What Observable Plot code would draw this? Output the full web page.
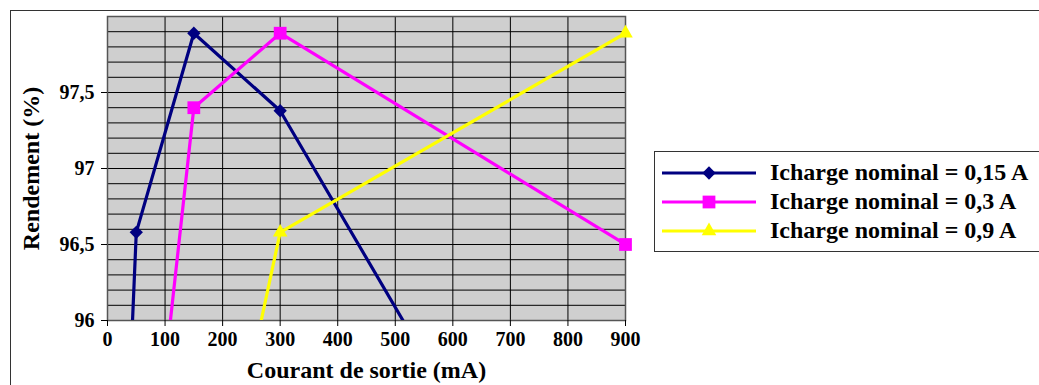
<!DOCTYPE html>
<html>
<head>
<meta charset="utf-8">
<script src="https://cdn.jsdelivr.net/npm/d3@7"></script>
<script src="https://cdn.jsdelivr.net/npm/@observablehq/plot@0.6"></script>
<style>
  html, body { margin: 0; padding: 0; background: #fff; overflow: hidden; width: 1039px; height: 385px; }
  #wrap { position: relative; width: 1039px; height: 385px; }
  #outer { position: absolute; left: 10px; top: 10px; width: 1100px; height: 500px; border-top: 1.5px solid #333; border-left: 1.5px solid #333; }
  #chart { position: absolute; left: 0; top: 0; }
  #legend { position: absolute; left: 654px; top: 151px; width: 420px; height: 99px; border: 1.5px solid #333; background: #fff;
            font-family: "Liberation Serif", "Times New Roman", serif; font-weight: bold; font-size: 24px; color: #000; }
  .row { position: absolute; left: 6px; height: 29px; display: flex; align-items: center; white-space: nowrap; }
  .row svg { display: block; margin-right: 13px; }
</style>
</head>
<body>
<div id="wrap">
  <div id="outer"></div>
  <div id="chart"></div>
  <div id="legend"></div>
</div>
<script>
// ---- Data ----
const seriesNames = ["Icharge nominal = 0,15 A", "Icharge nominal = 0,3 A", "Icharge nominal = 0,9 A"];
const seriesColors = ["#000080", "#FF00FF", "#FFFF00"];
const seriesSymbols = ["diamond2", "square", "triangle"];

const current015 = [30, 50, 150, 300, 600];
const rendement015 = [94.8, 96.58, 97.89, 97.38, 95.44];

const current03 = [100, 150, 300, 900];
const rendement03 = [95.68, 97.40, 97.89, 96.50];

const current09 = [250, 300, 900];
const rendement09 = [95.70, 96.58, 97.89];

const xTicks = [0, 100, 200, 300, 400, 500, 600, 700, 800, 900];
const yTicks = [96, 96.5, 97, 97.5];
const yGrid = [96, 96.1, 96.2, 96.3, 96.4, 96.5, 96.6, 96.7, 96.8, 96.9, 97, 97.1, 97.2, 97.3, 97.4, 97.5, 97.6, 97.7, 97.8, 97.9, 98];

const xTitle = "Courant de sortie (mA)";
const yTitle = "Rendement (%)";

// ---- Build table ----
const seriesX = [current015, current03, current09];
const seriesY = [rendement015, rendement03, rendement09];
const data = [];
seriesNames.forEach((name, i) => {
  seriesX[i].forEach((x, j) => data.push({series: name, x, y: seriesY[i][j]}));
});
const dotR = {"diamond2": 6, "square": 7.2, "triangle": 5.4};
const yMin = 96, yMax = 98;

const marks = [
  Plot.frame({fill: "#cfcfcf", stroke: null}),
  Plot.gridY(yGrid, {stroke: "#000", strokeOpacity: 1, strokeWidth: 1}),
  Plot.gridX(xTicks, {stroke: "#000", strokeOpacity: 1, strokeWidth: 1}),
  Plot.frame({stroke: "#555", strokeWidth: 1.5}),
  Plot.axisX(xTicks, {tickSize: 6, tickPadding: 5, fontSize: 20, tickFormat: d => String(d), label: null, stroke: "#000"}),
  Plot.axisY(yTicks, {tickSize: 6, tickPadding: 7, fontSize: 20, tickFormat: d => String(d).replace(".", ","), label: null, stroke: "#000"}),
  Plot.text([xTitle], {frameAnchor: "bottom", textAnchor: "middle", lineAnchor: "middle", dy: 50, fontSize: 24, fontWeight: "bold", fill: "#000"}),
  Plot.text([yTitle], {frameAnchor: "left", textAnchor: "middle", lineAnchor: "middle", dx: -76, rotate: -90, fontSize: 24, fontWeight: "bold", fill: "#000"})
];
seriesNames.forEach((name, i) => {
  const d = data.filter(r => r.series === name);
  marks.push(Plot.line(d, {x: "x", y: "y", stroke: seriesColors[i], strokeWidth: 3.2, clip: true}));
});
seriesNames.forEach((name, i) => {
  const d = data.filter(r => r.series === name && r.y >= yMin && r.y <= yMax);
  marks.push(Plot.dot(d, {x: "x", y: "y", symbol: () => seriesSymbols[i], fill: seriesColors[i], stroke: "none", r: dotR[seriesSymbols[i]]}));
});

const chart = Plot.plot({
  width: 1039,
  height: 385,
  marginLeft: 107,
  marginRight: 414,
  marginTop: 16,
  marginBottom: 65,
  style: {fontFamily: "'Liberation Serif', 'Times New Roman', serif", fontWeight: "bold", fontSize: "20px", color: "#000", background: "transparent"},
  x: {domain: [0, 900]},
  y: {domain: [yMin, yMax]},
  symbol: {type: "identity"},
  marks
});
document.getElementById("chart").appendChild(chart);

// ---- Legend ----
const legend = document.getElementById("legend");
const symGen = {"diamond2": d3.symbolDiamond2, "square": d3.symbolSquare, "triangle": d3.symbolTriangle};
seriesNames.forEach((name, i) => {
  const row = document.createElement("div");
  row.className = "row";
  row.style.top = (6 + i * 29) + "px";
  const svg = d3.create("svg").attr("width", 96).attr("height", 20);
  svg.append("line").attr("x1", 1).attr("x2", 95).attr("y1", 10).attr("y2", 10)
     .attr("stroke", seriesColors[i]).attr("stroke-width", 3);
  const r = dotR[seriesSymbols[i]];
  svg.append("path").attr("transform", "translate(48,10)")
     .attr("d", d3.symbol(symGen[seriesSymbols[i]], Math.PI * r * r)())
     .attr("fill", seriesColors[i]);
  row.appendChild(svg.node());
  const span = document.createElement("span");
  span.textContent = name;
  row.appendChild(span);
  legend.appendChild(row);
});
</script>
</body>
</html>
